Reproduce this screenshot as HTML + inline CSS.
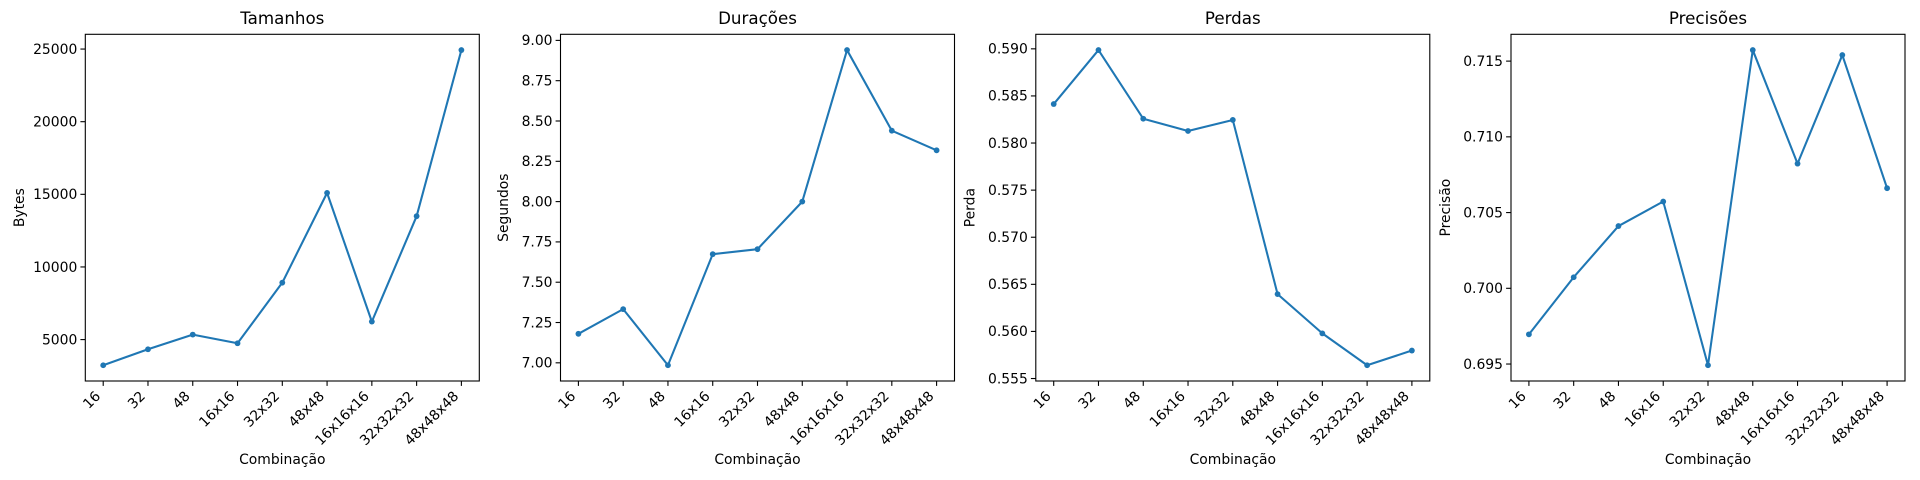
<!DOCTYPE html>
<html><head><meta charset="utf-8"><style>
html,body{margin:0;padding:0;background:#fff;}
svg{display:block;font-family:"DejaVu Sans","Liberation Sans",sans-serif;}
</style></head><body>
<svg id="fig" width="1920" height="480" viewBox="0 0 1920 480" xmlns="http://www.w3.org/2000/svg"></svg>
<script>
const categories = ["16","32","48","16x16","32x32","48x48","16x16x16","32x32x32","48x48x48"];
const sizes = [3234,4333,5344,4746,8918,15100,6237,13495,24931];
const durations = [7.18,7.333,6.985,7.674,7.705,8.0,8.94,8.44,8.318];
const losses = [0.58414,0.58987,0.58258,0.58128,0.58245,0.56396,0.55979,0.55641,0.55797];
const precisions = [0.69696,0.70073,0.70411,0.70573,0.69492,0.71573,0.70823,0.7154,0.70661];
const sizeTicks = [5000,10000,15000,20000,25000];
const sizeTickLabels = ["5000","10000","15000","20000","25000"];
const durTicks = [7.0,7.25,7.5,7.75,8.0,8.25,8.5,8.75,9.0];
const durTickLabels = ["7.00","7.25","7.50","7.75","8.00","8.25","8.50","8.75","9.00"];
const lossTicks = [0.555,0.56,0.565,0.57,0.575,0.58,0.585,0.59];
const lossTickLabels = ["0.555","0.560","0.565","0.570","0.575","0.580","0.585","0.590"];
const precTicks = [0.695,0.7,0.705,0.71,0.715];
const precTickLabels = ["0.695","0.700","0.705","0.710","0.715"];

const NS="http://www.w3.org/2000/svg";
const svg=document.getElementById('fig');
function mk(tag,attrs,parent){const e=document.createElementNS(NS,tag);for(const k in attrs)e.setAttribute(k,attrs[k]);(parent||svg).appendChild(e);return e;}

const TOP=34.3, BOT=381, W=394;
const panels=[
 {left:85.3,title:"Tamanhos",ylabel:"Bytes",vals:sizes,ticks:sizeTicks,labels:sizeTickLabels,key:"sizes"},
 {left:560.5,title:"Durações",ylabel:"Segundos",vals:durations,ticks:durTicks,labels:durTickLabels,key:"durations"},
 {left:1035.8,title:"Perdas",ylabel:"Perda",vals:losses,ticks:lossTicks,labels:lossTickLabels,key:"losses"},
 {left:1511,title:"Precisões",ylabel:"Precisão",vals:precisions,ticks:precTicks,labels:precTickLabels,key:"precisions"}
];
panels.forEach(p=>{
  const g=mk('g',{});
  
  
  const mn=Math.min(...p.vals), mx=Math.max(...p.vals), pad=(mx-mn)*0.05;
  const y0=mn-pad, y1=mx+pad;
  const n=categories.length;
  const xs=i=>p.left+W*((i+0.4)/(n-1+0.8));
  const ys=v=>BOT-(v-y0)/(y1-y0)*(BOT-TOP);
  const t=mk('text',{x:p.left+W/2,y:24,'text-anchor':'middle','font-size':'16.7',fill:'#000'},g);
  t.textContent=p.title;
  
  
  p.ticks.forEach((tv,i)=>{
    const y=ys(tv);
    if(y<TOP-0.5||y>BOT+0.5)return;
    mk('line',{x1:p.left-4.9,x2:p.left,y1:y,y2:y,stroke:'#000','stroke-width':1.1},g);
    const tl=mk('text',{x:p.left-8,y:y+4.8,'text-anchor':'end','font-size':'13.9',fill:'#000'},g);
    tl.textContent=p.labels[i];
    
    
  });
  categories.forEach((c,i)=>{
    const x=xs(i);
    mk('line',{x1:x,x2:x,y1:BOT,y2:BOT+4.9,stroke:'#000','stroke-width':1.1},g);
    const tl=mk('text',{'text-anchor':'end','font-size':'13.9',fill:'#000',transform:`translate(${x-2},${BOT+16}) rotate(-45)`},g);
    tl.textContent=c;
    
    
  });
  const pts=p.vals.map((v,i)=>xs(i).toFixed(2)+','+ys(v).toFixed(2)).join(' ');
  const pl=mk('polyline',{points:pts,fill:'none',stroke:'#1f77b4','stroke-width':2.08,'stroke-linejoin':'round'},g);
  
  
  p.vals.forEach((v,i)=>{
    const c=mk('circle',{cx:xs(i),cy:ys(v),r:2.9,fill:'#1f77b4'},g);
    
    
  });
  mk('rect',{x:p.left,y:TOP,width:W,height:BOT-TOP,fill:'none',stroke:'#000','stroke-width':1.1},g);
  const xl=mk('text',{x:p.left+W/2,y:464,'text-anchor':'middle','font-size':'13.9',fill:'#000'},g);
  xl.textContent="Combinação";
  
  
  const lw=Math.max(...p.labels.map(s=>s.length))*8.85;
  const yx=p.left-8-lw-9;
  const yl=mk('text',{'text-anchor':'middle','font-size':'13.9',fill:'#000',transform:`translate(${yx},${(TOP+BOT)/2}) rotate(-90)`},g);
  yl.textContent=p.ylabel;
  
  
});
</script>
</body></html>
